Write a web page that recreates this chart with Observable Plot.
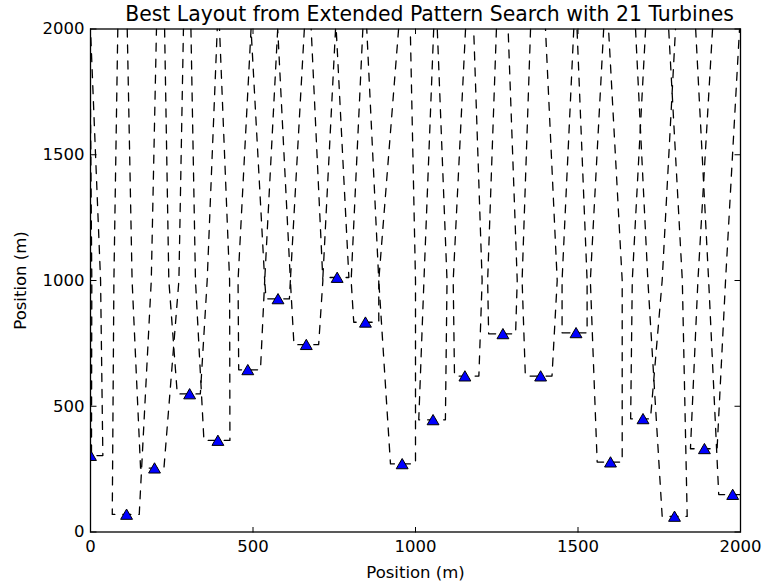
<!DOCTYPE html>
<html><head><meta charset="utf-8">
<script src="https://cdn.jsdelivr.net/npm/d3@7"></script>
<script src="https://cdn.jsdelivr.net/npm/@observablehq/plot@0.6"></script>
<style>
body{margin:0;background:#fff;}
#chart{width:765px;height:588px;}
</style></head><body>
<div id="chart"></div>
<script>
// Turbine positions (m)
const turbX = [0,111,197,305,392,484,577,664,759,846,959,1054,1152,1269,1385,1494,1600,1700,1797,1889,1976];
const turbY = [304,70,254,549,364,645,927,745,1012,834,271,446,620,788,620,792,278,450,62,331,149];
// Dashed boundary around each turbine: x of left / right wall at the turbine level, at 1000 m and at 2000 m
const wallLevels = [1000, 2000];
const leftBase  = [3,67,154,267,349,456,540,626,715,810,923,1010,1120,1225,1338,1451,1559,1662,1759,1846,1933];
const leftMid   = [4,72,128,241,323,454,536,615,null,802,887,1026,1116,1222,1328,1451,1538,1667,1715,1869,1902];
const leftTop   = [-2,84,113,228,309,494,576,658,754,838,948,1056,1154,1249,1354,1487,1579,1708,1677,1914,1862];
const rightBase = [38,150,226,338,429,523,612,702,795,887,1000,1092,1195,1308,1420,1528,1636,1723,1836,1928,2008];
const rightMid  = [31,187,272,359,428,536,615,715,null,887,1000,1097,1205,1313,1436,1528,1636,1759,1821,1954,2010];
const rightTop  = [0,203,286,390,397,494,576,679,756,850,984,1067,1179,1285,1400,1497,1594,1800,1779,1997,2015];
const xTicks = [0, 500, 1000, 1500, 2000];
const yTicks = [0, 500, 1000, 1500, 2000];
const titleText = "Best Layout from Extended Pattern Search with 21 Turbines";
const xLabel = "Position (m)";
const yLabel = "Position (m)";

const turbines = turbX.map((x, i) => ({x, y: turbY[i]}));
const pathRows = [];
turbX.forEach((_, i) => {
  const y = turbY[i];
  const pts = [[leftTop[i], wallLevels[1]]];
  if (leftMid[i] != null) pts.push([leftMid[i], wallLevels[0]]);
  pts.push([leftBase[i], y], [rightBase[i], y]);
  if (rightMid[i] != null) pts.push([rightMid[i], wallLevels[0]]);
  pts.push([rightTop[i], wallLevels[1]]);
  pts.forEach(([x, yy]) => pathRows.push({t: i, x, y: yy}));
});
const fmt = d => String(d);

const plot = Plot.plot({
  width: 765, height: 588,
  marginLeft: 90, marginRight: 25, marginTop: 28.5, marginBottom: 56.5,
  style: {fontFamily: "'DejaVu Sans', sans-serif", fontSize: "16.5px", background: "white", color: "black"},
  x: {domain: [0, 2000], ticks: xTicks, label: null, tickFormat: fmt},
  y: {domain: [0, 2000], ticks: yTicks, label: null, tickFormat: fmt},
  marks: [
    Plot.line(pathRows, {x: "x", y: "y", z: "t", stroke: "black", strokeWidth: 1.3, strokeDasharray: "8,8", clip: true}),
    Plot.dot(turbines, {x: "x", y: "y", symbol: "triangle", r: 4.4, fill: "#0000ff", stroke: "black", strokeWidth: 1, dy: 1.5, clip: true}),
    Plot.frame({stroke: "black", strokeWidth: 1.3}),
    Plot.axisX(xTicks, {anchor: "top", frameAnchor: "bottom", tickSize: 5.5, fill: "none", label: null, tickFormat: fmt}),
    Plot.axisX(xTicks, {anchor: "bottom", frameAnchor: "top", tickSize: 5.5, fill: "none", label: null, tickFormat: fmt}),
    Plot.axisY(yTicks, {anchor: "right", frameAnchor: "left", tickSize: 5.5, fill: "none", label: null, tickFormat: fmt}),
    Plot.axisY(yTicks, {anchor: "left", frameAnchor: "right", tickSize: 5.5, fill: "none", label: null, tickFormat: fmt}),
    Plot.axisX(xTicks, {anchor: "bottom", tickSize: 0, tickPadding: 8, label: null, tickFormat: fmt}),
    Plot.axisY(yTicks, {anchor: "left", tickSize: 0, tickPadding: 6, label: null, tickFormat: fmt}),
    Plot.text([xLabel], {frameAnchor: "bottom", lineAnchor: "middle", textAnchor: "middle", dy: 40.5, fontSize: 16.5}),
    Plot.text([yLabel], {frameAnchor: "left", lineAnchor: "middle", textAnchor: "middle", dx: -70, rotate: -90, fontSize: 16.5}),
    Plot.text([titleText], {frameAnchor: "top", lineAnchor: "middle", textAnchor: "middle", dx: 14, dy: -14.5, fontSize: 20.4})
  ]
});
document.getElementById("chart").appendChild(plot);
</script>
</body></html>
